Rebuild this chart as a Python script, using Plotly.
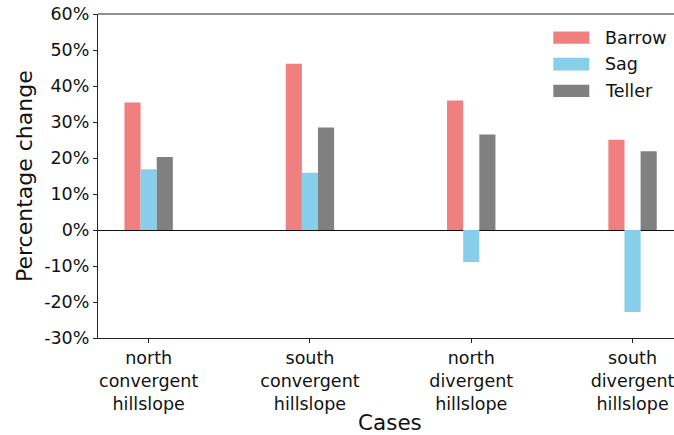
import plotly.graph_objects as go

categories = ["north<br>convergent<br>hillslope", "south<br>convergent<br>hillslope",
              "north<br>divergent<br>hillslope", "south<br>divergent<br>hillslope"]
barrow = [35.4, 46.2, 36.0, 25.1]
sag = [16.9, 15.9, -8.9, -22.8]
teller = [20.3, 28.5, 26.5, 21.9]
series_names = ["Barrow", "Sag", "Teller"]
series_colors = ["#F08080", "#87CEEB", "#808080"]
y_ticks = [-30, -20, -10, 0, 10, 20, 30, 40, 50, 60]
y_tick_labels = ["-30%", "-20%", "-10%", "0%", "10%", "20%", "30%", "40%", "50%", "60%"]

W, H = 674, 435
L, R, T, B = 98, 0, 13.5, 97
pw, ph = W - L - R, H - T - B

FONT = "DejaVu Sans"
fig = go.Figure()
for name, vals, col in zip(series_names, [barrow, sag, teller], series_colors):
    fig.add_trace(go.Bar(x=categories, y=vals, name=name, marker_color=col,
                         marker_line_width=0, showlegend=False))

def px_x(p):
    return (p - L) / pw

def px_y(p):
    return (H - B - p) / ph

shapes = [dict(type="line", xref="paper", yref="paper", x0=0, x1=1, y0=1, y1=1,
               line=dict(color="#222", width=1.2))]
annotations = []
leg_rows = [(31, 43.3), (57.3, 70), (84.3, 96.7)]
for (y0, y1), name, col in zip(leg_rows, series_names, series_colors):
    shapes.append(dict(type="rect", xref="paper", yref="paper",
                       x0=px_x(553.3), x1=px_x(589.3), y0=px_y(y1), y1=px_y(y0),
                       fillcolor=col, line=dict(width=0)))
    annotations.append(dict(xref="paper", yref="paper", x=px_x(603), y=px_y((y0 + y1) / 2),
                            text=name, showarrow=False, xanchor="left", yanchor="middle",
                            font=dict(family=FONT, size=17.5, color="#111")))
annotations.append(dict(xref="paper", yref="paper", x=px_x(390), y=px_y(423),
                        text="Cases", showarrow=False, xanchor="center", yanchor="middle",
                        font=dict(family=FONT, size=21.5, color="#111")))
annotations.append(dict(xref="paper", yref="paper", x=px_x(24), y=0.5, textangle=-90,
                        text="Percentage change", showarrow=False, xanchor="center",
                        yanchor="middle", font=dict(family=FONT, size=22, color="#111")))

fig.update_layout(
    width=W, height=H,
    margin=dict(l=L, r=R, t=T, b=B, autoexpand=False),
    paper_bgcolor="white", plot_bgcolor="white",
    barmode="group", bargap=0.7, bargroupgap=0,
    font=dict(family=FONT, size=17.5, color="#111"),
    shapes=shapes, annotations=annotations,
    showlegend=False,
)
fig.update_xaxes(range=[-0.314, 3.257], showline=True, linecolor="#222", linewidth=1.2,
                 ticks="outside", ticklen=4, tickcolor="#222", showgrid=False,
                 automargin=False, tickfont=dict(size=17.5))
fig.update_yaxes(range=[-30, 60], tickvals=y_ticks, ticktext=y_tick_labels, showline=True,
                 linecolor="#222", linewidth=1.2, ticks="outside", ticklen=4,
                 tickcolor="#222", showgrid=False, zeroline=True, zerolinecolor="#111",
                 zerolinewidth=1.2, automargin=False, tickfont=dict(size=17.5))

fig.write_html("out.html", config={"displayModeBar": False},
               post_script="document.body.style.margin='0';document.body.style.padding='0';")
